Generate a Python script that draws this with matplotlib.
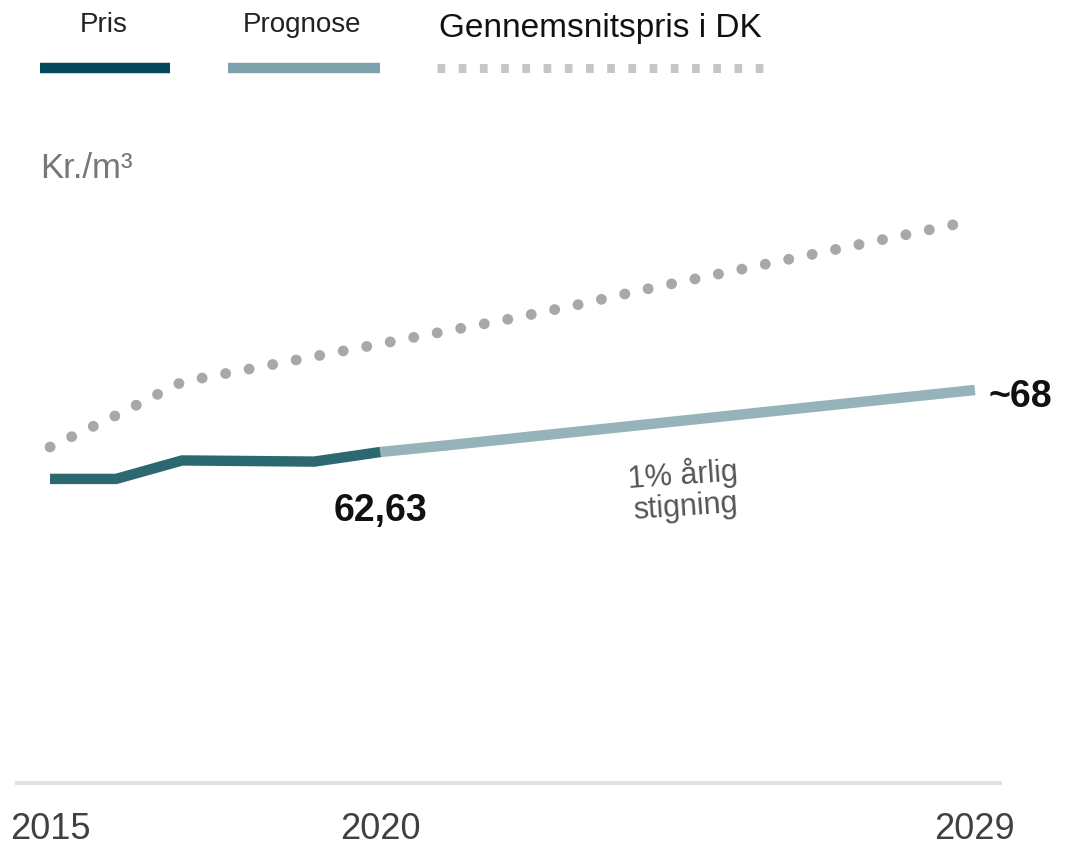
import matplotlib
matplotlib.use('Agg')
import matplotlib.pyplot as plt
from matplotlib import font_manager
from matplotlib.lines import Line2D

# values
years_pris = [2015, 2016, 2017, 2018, 2019, 2020]
pris = [60.3, 60.3, 61.9, 61.85, 61.8, 62.63]

years_prognose = [2020, 2021, 2022, 2023, 2024, 2025, 2026, 2027, 2028, 2029]
prognose = [62.63, 63.2, 63.8, 64.4, 65.0, 65.6, 66.2, 66.8, 67.4, 68.0]

years_dk = [2015, 2016, 2017, 2018, 2019, 2020, 2021, 2022, 2023, 2024,
            2025, 2026, 2027, 2028, 2029]
gennemsnit_dk = [63.06, 65.8, 68.7, 69.8, 70.9, 72.0, 73.1, 74.2, 75.4,
                 76.7, 77.9, 79.1, 80.3, 81.5, 82.7]

tick_years = [2015, 2020, 2029]

# pick a narrow font if there is one
names = {f.name for f in font_manager.fontManager.ttflist}
family = 'Liberation Sans Narrow' if 'Liberation Sans Narrow' in names else 'Liberation Sans'
plt.rcParams['font.family'] = [family, 'DejaVu Sans']

W, H = 1065, 849
fig = plt.figure(figsize=(W / 100, H / 100), dpi=100)

# axes placed so the years land where they do in the reference
ax = fig.add_axes([17 / W, 1 - 783 / H, (1000 - 17) / W, (783 - 150) / H])
ax.set_xlim(2014.5, 2029.38)
ax.set_ylim(33.97, 88.78)

ax.plot(years_dk, gennemsnit_dk, color='#a8a8a8', lw=7.8,
        linestyle=(0, (0.01, 2.2)), dash_capstyle='round')
ax.plot(years_prognose, prognose, color='#95b3b8', lw=7.5, solid_capstyle='butt')
ax.plot(years_pris, pris, color='#2c6870', lw=7.5, solid_capstyle='butt',
        solid_joinstyle='round')

for s in ['top', 'right', 'left']:
    ax.spines[s].set_visible(False)
ax.spines['bottom'].set_color('#e2e2e2')
ax.spines['bottom'].set_linewidth(3)
ax.set_yticks([])
ax.set_xticks(tick_years)
ax.set_xticklabels([str(y) for y in tick_years])
ax.tick_params(axis='x', length=0, pad=21, labelsize=26, labelcolor='#404040')

# annotations
ax.text(2020, pris[-1] - 5.1, '62,63', ha='center', va='center',
        fontsize=27, fontweight='bold', color='#111111')
ax.text(2029.2, prognose[-1] - 0.6, '~68', ha='left', va='center',
        fontsize=27, fontweight='bold', color='#111111', clip_on=False)
ax.text(2024.6, 59.3, '1% årlig\nstigning', ha='center', va='center',
        fontsize=22, color='#555555', rotation=4, linespacing=1.05)

fig.text(40 / W, 1 - 168 / H, 'Kr./m³', ha='left', va='center',
         fontsize=25, color='#777777')

# legend row across the top
fig.text(104 / W, 1 - 25 / H, 'Pris', ha='center', va='center', fontsize=20, color='#222222')
fig.text(302 / W, 1 - 25 / H, 'Prognose', ha='center', va='center', fontsize=20, color='#222222')
fig.text(600 / W, 1 - 28 / H, 'Gennemsnitspris i DK', ha='center', va='center',
         fontsize=24, color='#111111')

ly = 1 - 68 / H
fig.add_artist(Line2D([40 / W, 170 / W], [ly, ly], color='#03475a', lw=7.5,
                      solid_capstyle='butt', transform=fig.transFigure))
fig.add_artist(Line2D([228 / W, 380 / W], [ly, ly], color='#7fa1ab', lw=7.5,
                      solid_capstyle='butt', transform=fig.transFigure))
fig.add_artist(Line2D([437 / W, 766 / W], [ly, ly], color='#c6c6c6', lw=6.5,
                      linestyle=(0, (0.85, 1.5)), dash_capstyle='butt',
                      transform=fig.transFigure))

fig.savefig('out.png', dpi=100)
